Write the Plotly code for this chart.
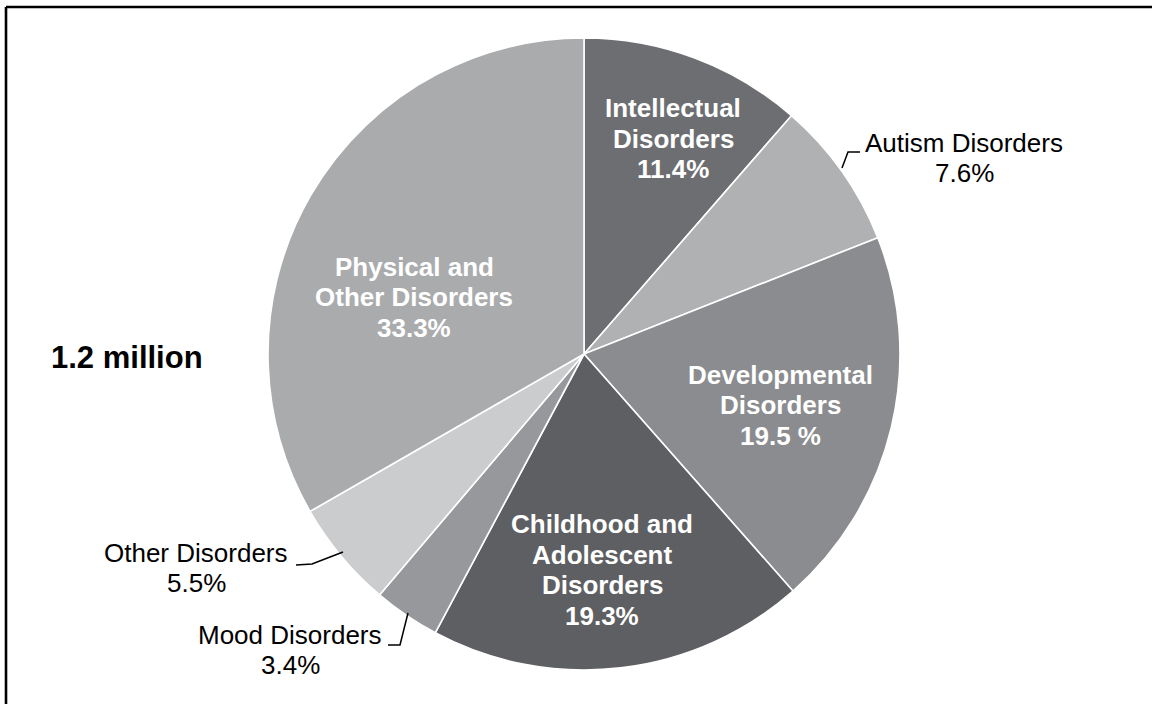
import plotly.graph_objects as go

# ---- data ----
categories = ["Intellectual Disorders", "Autism Disorders", "Developmental Disorders",
              "Childhood and Adolescent Disorders", "Mood Disorders", "Other Disorders",
              "Physical and Other Disorders"]
shares = [11.4, 7.6, 19.5, 19.3, 3.4, 5.5, 33.3]
slice_colors = ["#6d6e71", "#b0b1b3", "#8b8c8f", "#5e5f62", "#97989b", "#cbcccd", "#aaabad"]
label_lines = [["Intellectual", "Disorders", "11.4%"],
               ["Autism Disorders", "7.6%"],
               ["Developmental", "Disorders", "19.5 %"],
               ["Childhood and", "Adolescent", "Disorders", "19.3%"],
               ["Mood Disorders", "3.4%"],
               ["Other Disorders", "5.5%"],
               ["Physical and", "Other Disorders", "33.3%"]]
inside = [True, False, True, True, False, False, True]
total_label = "1.2 million"

W, H = 1152, 704
def px(x):
    return x / W
def py(y):
    return 1 - y / H

# label block centres (pixels)
label_pos = [(673, 139), (964, 158), (780, 405), (602, 570), (290, 650), (196, 568), (414, 297)]
FONT = "Liberation Sans, Arial, sans-serif"

fig = go.Figure(go.Pie(
    labels=categories, values=shares, sort=False, direction="clockwise", rotation=0,
    marker=dict(colors=slice_colors, line=dict(color="white", width=1.6)),
    textinfo="none", hoverinfo="label+percent", showlegend=False,
    domain=dict(x=[px(268), px(900)], y=[py(670), py(38)]),
))

annotations = []
for lines, (x, y), ins in zip(label_lines, label_pos, inside):
    pitch = 30.5 if ins else 29.5
    n = len(lines)
    for i, ln in enumerate(lines):
        yc = y + (i - (n - 1) / 2) * pitch
        if ins:
            f = dict(family=FONT, size=26, color="white")
            t = "<b>" + ln + "</b>"
        else:
            f = dict(family=FONT, size=26, color="black")
            t = ln
        annotations.append(dict(x=px(x), y=py(yc), xref="paper", yref="paper", text=t,
                                showarrow=False, font=f, align="center",
                                xanchor="center", yanchor="middle"))
annotations.append(dict(x=px(127), y=py(357), xref="paper", yref="paper",
                        text="<b>" + total_label + "</b>", showarrow=False,
                        font=dict(family=FONT, size=31, color="black"),
                        xanchor="center", yanchor="middle"))

def path(points):
    return "M " + " L ".join(f"{px(a)},{py(b)}" for a, b in points)

shapes = [
    # leader lines
    dict(type="path", xref="paper", yref="paper", path=path([(842, 168), (848, 152), (860, 152)]),
         line=dict(color="black", width=1.5)),
    dict(type="path", xref="paper", yref="paper", path=path([(296, 565), (312, 564), (343, 552)]),
         line=dict(color="black", width=1.5)),
    dict(type="path", xref="paper", yref="paper", path=path([(388, 645), (400, 645), (408, 613)]),
         line=dict(color="black", width=1.5)),
    # frame (top and left)
    dict(type="line", xref="paper", yref="paper", x0=px(6), y0=py(7), x1=1.0, y1=py(7),
         line=dict(color="black", width=2.6)),
    dict(type="line", xref="paper", yref="paper", x0=px(6), y0=py(7), x1=px(6), y1=0.0,
         line=dict(color="black", width=2.6)),
]

fig.update_layout(width=W, height=H, margin=dict(l=0, r=0, t=0, b=0),
                  paper_bgcolor="white", plot_bgcolor="white",
                  annotations=annotations, shapes=shapes)

fig.write_html("out.html", config={"displayModeBar": False},
               post_script="document.body.style.margin='0';document.body.style.overflow='hidden';")
